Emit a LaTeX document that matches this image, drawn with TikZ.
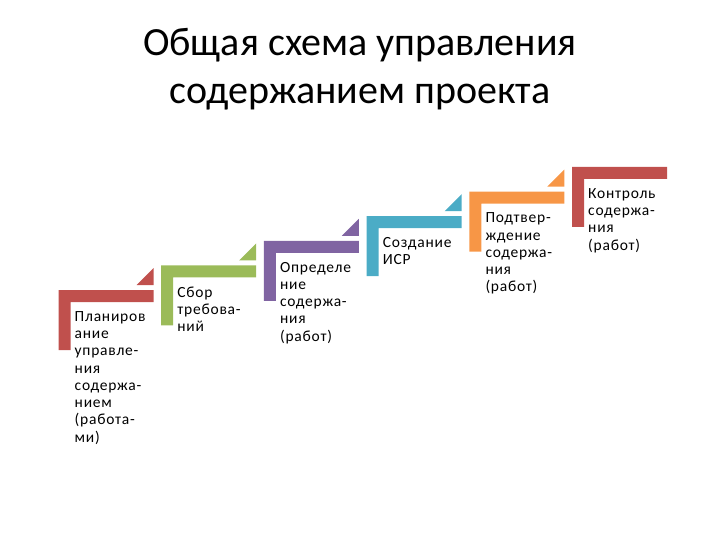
\documentclass[tikz,border=0pt]{standalone}
\usepackage{fontspec}
\setmainfont{Carlito}
\newfontfamily\stepfont[LetterSpace=5]{Carlito}
\definecolor{stepred}{HTML}{C0504D}
\definecolor{stepgreen}{HTML}{9BBB59}
\definecolor{steppurple}{HTML}{8064A2}
\definecolor{stepblue}{HTML}{4BACC6}
\definecolor{steporange}{HTML}{F79646}

\begin{document}
\begin{tikzpicture}[x=1pt,y=-1pt,
  steptext/.style={anchor=north west,align=left,inner sep=0pt,
    font=\stepfont\fontsize{15.5}{17.3}\selectfont}]
  \useasboundingbox (0,0) rectangle (720,540);
  \node[font=\fontsize{40}{48}\selectfont,align=center] (title) at (360,69)
    {Общая схема управления\\содержанием проекта};
  \foreach \i/\col/\txt in {
      0/stepred/{Планиров\\ание\\управле-\\ния\\содержа-\\нием\\(работа-\\ми)},
      1/stepgreen/{Сбор\\требова-\\ний},
      2/steppurple/{Определе\\ние\\содержа-\\ния\\(работ)},
      3/stepblue/{Создание\\ИСР},
      4/steporange/{Подтвер-\\ждение\\содержа-\\ния\\(работ)},
      5/stepred/{Контроль\\содержа-\\ния\\(работ)}} {
    \pgfmathsetmacro\sx{58.5+102.7*\i}
    \pgfmathsetmacro\sy{290-24.6*\i}
    \fill[\col] (\sx,\sy) -- ++(95,0) -- ++(0,12) -- ++(-83,0)
      -- ++(0,48) -- ++(-12,0) -- cycle;
    \ifnum\i<5
      \fill[\col] (\sx+95,\sy-5) -- ++(0,-17) -- ++(-17,17) -- cycle;
    \fi
    \node[steptext] (s\i) at (\sx+16,\sy+21) {\txt};
  }
\end{tikzpicture}
\end{document}
